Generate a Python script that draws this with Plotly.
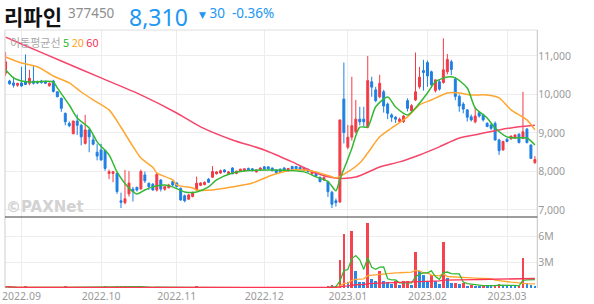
import pandas as pd
import plotly.graph_objects as go

# ---------------- data ----------------
holidays = ["2022-09-09", "2022-09-12", "2022-10-03", "2022-10-10",
            "2022-12-30", "2023-01-23", "2023-01-24", "2023-03-01"]
dates = pd.bdate_range("2022-08-26", "2023-03-13", freq="C", holidays=holidays)

opens = [10550,10350,10300,10240,10300,10340,10290,10350,10330,10350,
         10340,10230,10350,10070,9900,9510,9250,8980,9310,9200,
         8730,9080,8820,8500,8560,8550,7950,7950,7955,7240,
         7190,7420,7540,7590,7550,7910,7690,7670,7520,7780,
         7540,7580,7736,7700,7565,7370,7280,7350,7520,7640,
         7660,7800,7850,7940,7960,8040,7950,8090,7950,8010,
         8020,8080,8070,7990,8050,8120,8120,8090,8040,8060,
         8090,8020,8130,8130,8110,8040,8060,7940,7970,7850,
         7780,7736,7460,7240,7210,9880,8630,8890,9030,9360,
         9360,9150,10330,10120,9940,10070,9750,9470,9410,9300,
         9300,9840,9580,9860,10200,10620,10830,10590,10100,10330,
         10310,10590,10850,10400,9950,9750,9600,9420,9290,9530,
         9470,9250,9210,9250,8820,8560,8840,8850,8870,8970,
         8860,9100,8690,8230]
highs = [11100,10380,10460,10300,10720,11040,10640,10750,10360,10380,
         10360,10310,10380,10080,9920,9530,9300,9320,9480,9240,
         9470,9100,8950,8720,8720,8560,8050,8000,7960,7450,
         8040,8010,7600,7600,8050,8000,7720,7700,7970,7800,
         7620,7680,7760,7720,7580,7400,7420,7480,7870,7720,
         7740,7830,8140,8010,8050,8060,8010,8110,8020,8070,
         8080,8100,8090,8060,8110,8140,8130,8100,8060,8080,
         8110,8090,8150,8140,8130,8100,8070,8020,7990,7870,
         7870,7760,7500,7300,9340,10830,9210,10460,9860,9680,
         9680,11000,10460,10200,10510,10120,9790,9510,9440,9400,
         9470,9900,9750,11090,10720,10900,10880,10620,10380,10400,
         11460,11050,10900,10450,10000,9800,9620,9480,9670,9550,
         9500,9280,9230,9300,8850,8800,8860,8930,8960,8990,
         10070,9130,8700,8400]
lows = [10480,10250,10180,10200,10200,10250,10240,10260,10270,10280,
        10270,10200,10050,9930,9550,9200,9150,8970,8950,8680,
        8700,8500,8680,8290,8280,8020,7800,7720,7420,7050,
        7150,7350,7220,7480,7520,7700,7520,7500,7480,7480,
        7500,7560,7620,7580,7240,7200,7260,7330,7500,7620,
        7640,7700,7830,7920,7940,7970,7930,7930,7930,7990,
        8000,8020,8000,7970,8030,8050,8060,8010,7950,7980,
        8010,8000,8050,8060,8040,8020,7980,7920,7870,7720,
        7760,7338,7050,7090,7180,8730,8580,8800,8990,9200,
        9180,9120,9940,9800,9900,9530,9360,9290,9260,9270,
        9260,9560,9550,9830,10150,10100,10200,10170,10050,10100,
        10280,10520,10500,9850,9550,9510,9300,9300,9250,9400,
        9300,9150,9080,8800,8430,8540,8760,8820,8850,8730,
        8840,8730,8330,8200]
closes = [10850,10280,10240,10290,10220,10260,10420,10290,10300,10310,
          10290,10290,10080,9940,9640,9290,9190,9310,9200,8900,
          9080,8900,8710,8400,8300,8080,7995,7995,7480,7200,
          7290,7700,7480,7520,8000,7760,7610,7520,7930,7545,
          7606,7650,7650,7610,7260,7240,7390,7450,7695,7700,
          7720,7720,8000,7990,8020,7990,7990,7940,8010,8060,
          8070,8040,8020,8040,8090,8060,8070,8020,7970,7990,
          8020,8080,8060,8070,8060,8090,7990,8010,7885,7736,
          7850,7476,7150,7190,9340,9010,8890,9190,9360,9290,
          9290,10360,10190,9840,10290,9700,9510,9410,9360,9360,
          9440,9640,9710,10070,10450,10570,10480,10250,10380,10140,
          10640,10910,10650,9950,9700,9620,9410,9340,9440,9440,
          9340,9170,9120,8820,8540,8780,8780,8920,8950,8750,
          9030,8750,8340,8310]
volumes = [160000,70000,55000,40000,85000,120000,75000,60000,35000,30000,
           30000,40000,65000,70000,110000,120000,80000,95000,100000,90000,
           110000,85000,70000,95000,80000,120000,90000,75000,140000,230000,
           260000,170000,90000,60000,150000,80000,60000,55000,110000,70000,
           50000,45000,40000,45000,90000,70000,60000,55000,120000,60000,
           45000,40000,110000,60000,50000,40000,35000,45000,40000,35000,
           30000,30000,25000,30000,35000,30000,25000,25000,30000,30000,
           25000,30000,35000,25000,25000,30000,35000,30000,40000,60000,
           50000,150000,300000,200000,3280000,6300000,740000,6700000,2000000,740000,
           720000,7600000,1050000,820000,2000000,820000,700000,470000,780000,310000,
           780000,820000,350000,4200000,2000000,1500000,860000,1500000,820000,470000,
           5400000,1170000,620000,630000,470000,620000,230000,310000,290000,250000,
           300000,260000,240000,330000,520000,330000,260000,230000,210000,240000,
           3500000,550000,350000,230000]

# moving-average lines (trading-day index, price)
ma5_idx = [0,2,4,6,12,13,16,18,21,23,26,28,31,33,35,37,40,42,45,48,51,53,57,60,67,75,78,81,83,84,86,87,89,91,93,96,98,101,103,106,108,111,113,116,118,121,123,126,128,131,133]
ma5_val = [10640,10430,10350,10325,10325,10170,9727,9390,9130,8770,8430,7990,7570,7415,7520,7600,7650,7600,7470,7470,7600,7780,7960,8013,8040,7990,7860,7740,7500,7800,8320,8600,9150,9160,9680,9935,9675,9470,9650,10040,10330,10455,10430,10170,9650,9390,9130,8900,8870,8870,8690]
ma20_idx = [0,4,8,12,16,19,22,26,29,32,34,37,38,42,43,47,48,52,57,62,67,72,75,78,82,83,86,89,91,94,97,101,104,107,111,114,117,121,124,127,131,133]
ma20_val = [10975,10820,10720,10480,10300,10065,9860,9600,9150,8650,8350,8110,7960,7780,7650,7570,7520,7520,7600,7700,7910,8040,8040,7990,7860,7830,7990,8220,8480,8900,9130,9415,9727,9857,10040,10040,9987,9987,9910,9600,9340,9080]
ma60_idx = [0,4,14,24,34,43,49,57,65,72,78,83,88,94,99,104,109,114,119,124,129,133]
ma60_val = [11490,11310,10870,10430,9990,9520,9160,8820,8560,8250,7960,7830,7857,8117,8250,8430,8640,8870,8975,9080,9160,9200]

price_ticks = [7000, 8000, 9000, 10000, 11000]
price_tick_labels = ["7,000", "8,000", "9,000", "10,000", "11,000"]
vol_ticks = [3000000, 6000000]
vol_tick_labels = ["3M", "6M"]
month_labels = ["2022.09", "2022.10", "2022.11", "2022.12", "2023.01", "2023.02", "2023.03"]

# ---------------- derived ----------------
idx = list(range(len(dates)))
months = pd.Series(dates.strftime("%Y.%m"))
month_first = [int(months[months == m].index[0]) for m in month_labels]

vol_s = pd.Series(volumes, dtype=float)
vma5 = vol_s.rolling(5, min_periods=1).mean()
vma20 = vol_s.rolling(20, min_periods=1).mean()
vma60 = vol_s.rolling(60, min_periods=1).mean()

RED = "#f23b46"
BLUE = "#1f7fe3"
VRED = "#f5434f"
VBLUE = "#2b87e6"
GREEN = "#33b833"
ORANGE = "#ffa630"
PINK = "#f5466b"
vol_colors = [VRED if (i == 0 or volumes[i] >= volumes[i - 1]) else VBLUE for i in idx]

W, H = 594, 304
def px_x(x):
    return x / W
def px_y(y):
    return (H - y) / H

x0p, x1p = px_x(2), px_x(537)
price_dom = [px_y(217), px_y(30)]
vol_dom = [px_y(288), px_y(217)]

fig = go.Figure()
fig.add_trace(go.Candlestick(
    x=idx, open=opens, high=highs, low=lows, close=closes,
    increasing=dict(line=dict(color=RED, width=1), fillcolor=RED),
    decreasing=dict(line=dict(color=BLUE, width=1), fillcolor=BLUE),
    whiskerwidth=0, xaxis="x", yaxis="y", showlegend=False, hoverinfo="skip"))
for xs, ys, col in [(ma60_idx, ma60_val, PINK), (ma20_idx, ma20_val, ORANGE), (ma5_idx, ma5_val, GREEN)]:
    fig.add_trace(go.Scatter(x=xs, y=ys, mode="lines", xaxis="x", yaxis="y",
                             line=dict(color=col, width=1.5, shape="spline", smoothing=0.7),
                             showlegend=False, hoverinfo="skip"))

fig.add_trace(go.Bar(x=idx, y=volumes, marker=dict(color=vol_colors, line=dict(width=0)),
                     width=0.68, xaxis="x2", yaxis="y2", showlegend=False, hoverinfo="skip"))
for ys, col in [(vma20, ORANGE), (vma5, GREEN), (vma60, "#ff3355")]:
    fig.add_trace(go.Scatter(x=idx, y=ys, mode="lines", xaxis="x2", yaxis="y2",
                             line=dict(color=col, width=1.3), showlegend=False, hoverinfo="skip"))

tickfont = dict(family="Noto Sans, DejaVu Sans, sans-serif", size=10.5, color="#9a9a9a")
xr = [-0.15, 133.6]
fig.update_layout(
    width=W, height=H, margin=dict(l=0, r=0, t=0, b=0),
    paper_bgcolor="white", plot_bgcolor="white",
    bargap=0, showlegend=False,
    xaxis=dict(domain=[x0p, x1p], range=xr, tickvals=month_first, showticklabels=False,
               showgrid=True, gridcolor="#ededed", gridwidth=1, zeroline=False,
               rangeslider=dict(visible=False), ticks=""),
    xaxis2=dict(domain=[x0p, x1p], range=xr, anchor="y2", tickvals=month_first,
                ticktext=month_labels, showgrid=True, gridcolor="#ededed", zeroline=False,
                ticks="", tickfont=tickfont, ticklabeloverflow="allow"),
    yaxis=dict(domain=price_dom, range=[6818, 11675], side="right", tickvals=price_ticks,
               ticktext=price_tick_labels, showgrid=True, gridcolor="#ededed", zeroline=False,
               ticks="", tickfont=tickfont, anchor="x"),
    yaxis2=dict(domain=vol_dom, range=[0, 8.32e6], side="right", tickvals=vol_ticks,
                ticktext=vol_tick_labels, showgrid=True, gridcolor="#ededed", zeroline=False,
                ticks="", tickfont=tickfont, anchor="x2"),
)

shapes = [
    dict(type="line", xref="paper", yref="paper", x0=x0p, x1=x0p, y0=vol_dom[0], y1=price_dom[1],
         line=dict(color="#cfcfcf", width=1)),
    dict(type="line", xref="paper", yref="paper", x0=x1p, x1=x1p, y0=vol_dom[0], y1=price_dom[1],
         line=dict(color="#c4c4c4", width=1)),
    dict(type="line", xref="paper", yref="paper", x0=x0p, x1=x1p, y0=price_dom[1], y1=price_dom[1],
         line=dict(color="#dedede", width=1)),
    dict(type="line", xref="paper", yref="paper", x0=x0p, x1=x1p, y0=price_dom[0], y1=price_dom[0],
         line=dict(color="#3a3a3a", width=1)),
]
fig.update_layout(shapes=shapes)

font_kr = "Noto Sans CJK KR, Noto Sans, sans-serif"
font_num = "Noto Sans, DejaVu Sans, sans-serif"
ann = [
    dict(text="<b>리파인</b>", x=px_x(0), y=1.0, yanchor="top",
         font=dict(family=font_kr, size=21, color="#111111")),
    dict(text="377450", x=px_x(64), y=px_y(13), yanchor="middle",
         font=dict(family=font_num, size=13.5, color="#8e8e8e")),
    dict(text="8,310", x=px_x(126), y=1.0, yanchor="top",
         font=dict(family=font_num, size=23, color="#2196f3")),
    dict(text="<span style='font-size:9px'>▼</span> 30 <span> </span>-0.36%", x=px_x(196), y=px_y(13),
         yanchor="middle", font=dict(family=font_num, size=13.5, color="#2196f3")),
    dict(text="이동평균선 <span style='color:#2fb82f'>5</span> <span style='color:#ffa020'>20</span> "
              "<span style='color:#f5315a'>60</span>",
         x=px_x(6), y=px_y(42), yanchor="middle", font=dict(family=font_kr, size=11, color="#a8a8a8")),
    dict(text="<b>©PAXNet</b>", x=px_x(2), y=px_y(207), yanchor="middle",
         font=dict(family="DejaVu Sans, sans-serif", size=15, color="#d2d2d2")),
]
for a in ann:
    a.update(xref="paper", yref="paper", xanchor="left", showarrow=False, borderpad=0)
fig.update_layout(annotations=ann)

fig.write_html("out.html")
